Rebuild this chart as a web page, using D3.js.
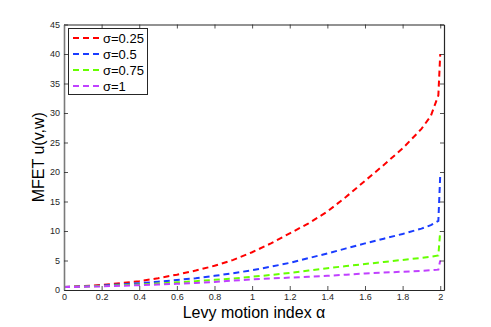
<!DOCTYPE html>
<html><head><meta charset="utf-8">
<script src="https://cdn.jsdelivr.net/npm/d3@7"></script>
<style>body{margin:0;background:#fff;}svg{display:block;font-family:"Liberation Sans",Arial,sans-serif;}</style>
</head><body><svg id="c" width="491" height="327"></svg>
<script>
const alphas = [0,0.1,0.2,0.3,0.4,0.5,0.6,0.7,0.8,0.9,1.0,1.1,1.2,1.3,1.4,1.5,1.6,1.7,1.8,1.9,1.95,1.99,2.0];
const sigma025 = [0.5,0.65,0.85,1.15,1.5,2.0,2.6,3.3,4.1,5.1,6.4,7.9,9.6,11.3,13.3,15.8,18.5,21.2,24.0,27.3,29.5,33.0,40.0];
const sigma05  = [0.5,0.6,0.75,0.95,1.15,1.4,1.7,2.0,2.4,2.85,3.35,3.95,4.6,5.4,6.2,7.05,7.9,8.7,9.5,10.4,11.0,11.7,19.5];
const sigma075 = [0.5,0.57,0.68,0.8,0.95,1.1,1.3,1.5,1.72,1.95,2.25,2.55,2.9,3.3,3.7,4.05,4.4,4.75,5.1,5.45,5.65,5.85,10.0];
const sigma1   = [0.5,0.55,0.62,0.72,0.82,0.93,1.05,1.2,1.35,1.6,1.8,1.95,2.1,2.25,2.4,2.6,2.8,2.95,3.1,3.25,3.35,3.45,5.0];
const seriesNames = ["σ=0.25","σ=0.5","σ=0.75","σ=1"];
const seriesColors = ["#ff0000","#1a3cff","#66ff00","#c040ff"];
const xTicks = [0,0.2,0.4,0.6,0.8,1,1.2,1.4,1.6,1.8,2];
const yTicks = [0,5,10,15,20,25,30,35,40,45];

const allSeries = [sigma025, sigma05, sigma075, sigma1];
const svg = d3.select("#c");
const L=64, R=444, T=24.5, B=290;
const x = d3.scaleLinear().domain([0,2.02]).range([L,R]);
const y = d3.scaleLinear().domain([0,45]).range([B,T]);
const axisColor="#262626";

// curves
const line = d3.line().x(d=>x(d[0])).y(d=>y(d[1]));
allSeries.forEach((s,i)=>{
  svg.append("path").datum(alphas.map((a,j)=>[a,s[j]]))
    .attr("d",line).attr("fill","none").attr("stroke",seriesColors[i])
    .attr("stroke-width",2).attr("stroke-dasharray","6,4");
});

// axes
const fmt = d=>String(d);
const gx = svg.append("g").attr("transform",`translate(0,${B})`)
  .call(d3.axisBottom(x).tickValues(xTicks).tickFormat(fmt).tickSizeInner(-4).tickSizeOuter(0).tickPadding(4));
const gxt = svg.append("g").attr("transform",`translate(0,${T})`)
  .call(d3.axisTop(x).tickValues(xTicks).tickFormat("").tickSizeInner(-4).tickSizeOuter(0));
const gy = svg.append("g").attr("transform",`translate(${L},0)`)
  .call(d3.axisLeft(y).tickValues(yTicks).tickFormat(fmt).tickSizeInner(-4).tickSizeOuter(0).tickPadding(4));
const gyr = svg.append("g").attr("transform",`translate(${R},0)`)
  .call(d3.axisRight(y).tickValues(yTicks).tickFormat("").tickSizeInner(-4).tickSizeOuter(0));
[gx,gxt,gy,gyr].forEach(g=>{
  g.selectAll("path").attr("stroke",axisColor).attr("stroke-width",1.2);
  g.selectAll("line").attr("stroke",axisColor).attr("stroke-width",0.8);
  g.selectAll("text").attr("fill",axisColor).style("font-size","9px").style("font-family","Liberation Sans, Arial, sans-serif");
});
gy.select("path").attr("stroke","#7a7a7a").attr("stroke-width",1.6);

// titles
svg.append("text").attr("x",(L+R)/2).attr("y",318).attr("text-anchor","middle")
  .style("font-size","16px").attr("fill","#000").text("Levy motion index α");
svg.append("text").attr("transform",`translate(44,${(T+B)/2}) rotate(-90)`).attr("text-anchor","middle")
  .style("font-size","16px").attr("fill","#000").text("MFET u(v,w)");

// legend
const lg = svg.append("g");
lg.append("rect").attr("x",68.5).attr("y",28.5).attr("width",79).attr("height",66)
  .attr("fill","#fff").attr("stroke",axisColor).attr("stroke-width",1);
seriesNames.forEach((n,i)=>{
  const yy = 38 + i*16;
  lg.append("line").attr("x1",73).attr("x2",101).attr("y1",yy).attr("y2",yy)
    .attr("stroke",seriesColors[i]).attr("stroke-width",2).attr("stroke-dasharray","6,4");
  lg.append("text").attr("x",103).attr("y",yy+4.5).style("font-size","13px").attr("fill","#000").text(n);
});
</script></body></html>
